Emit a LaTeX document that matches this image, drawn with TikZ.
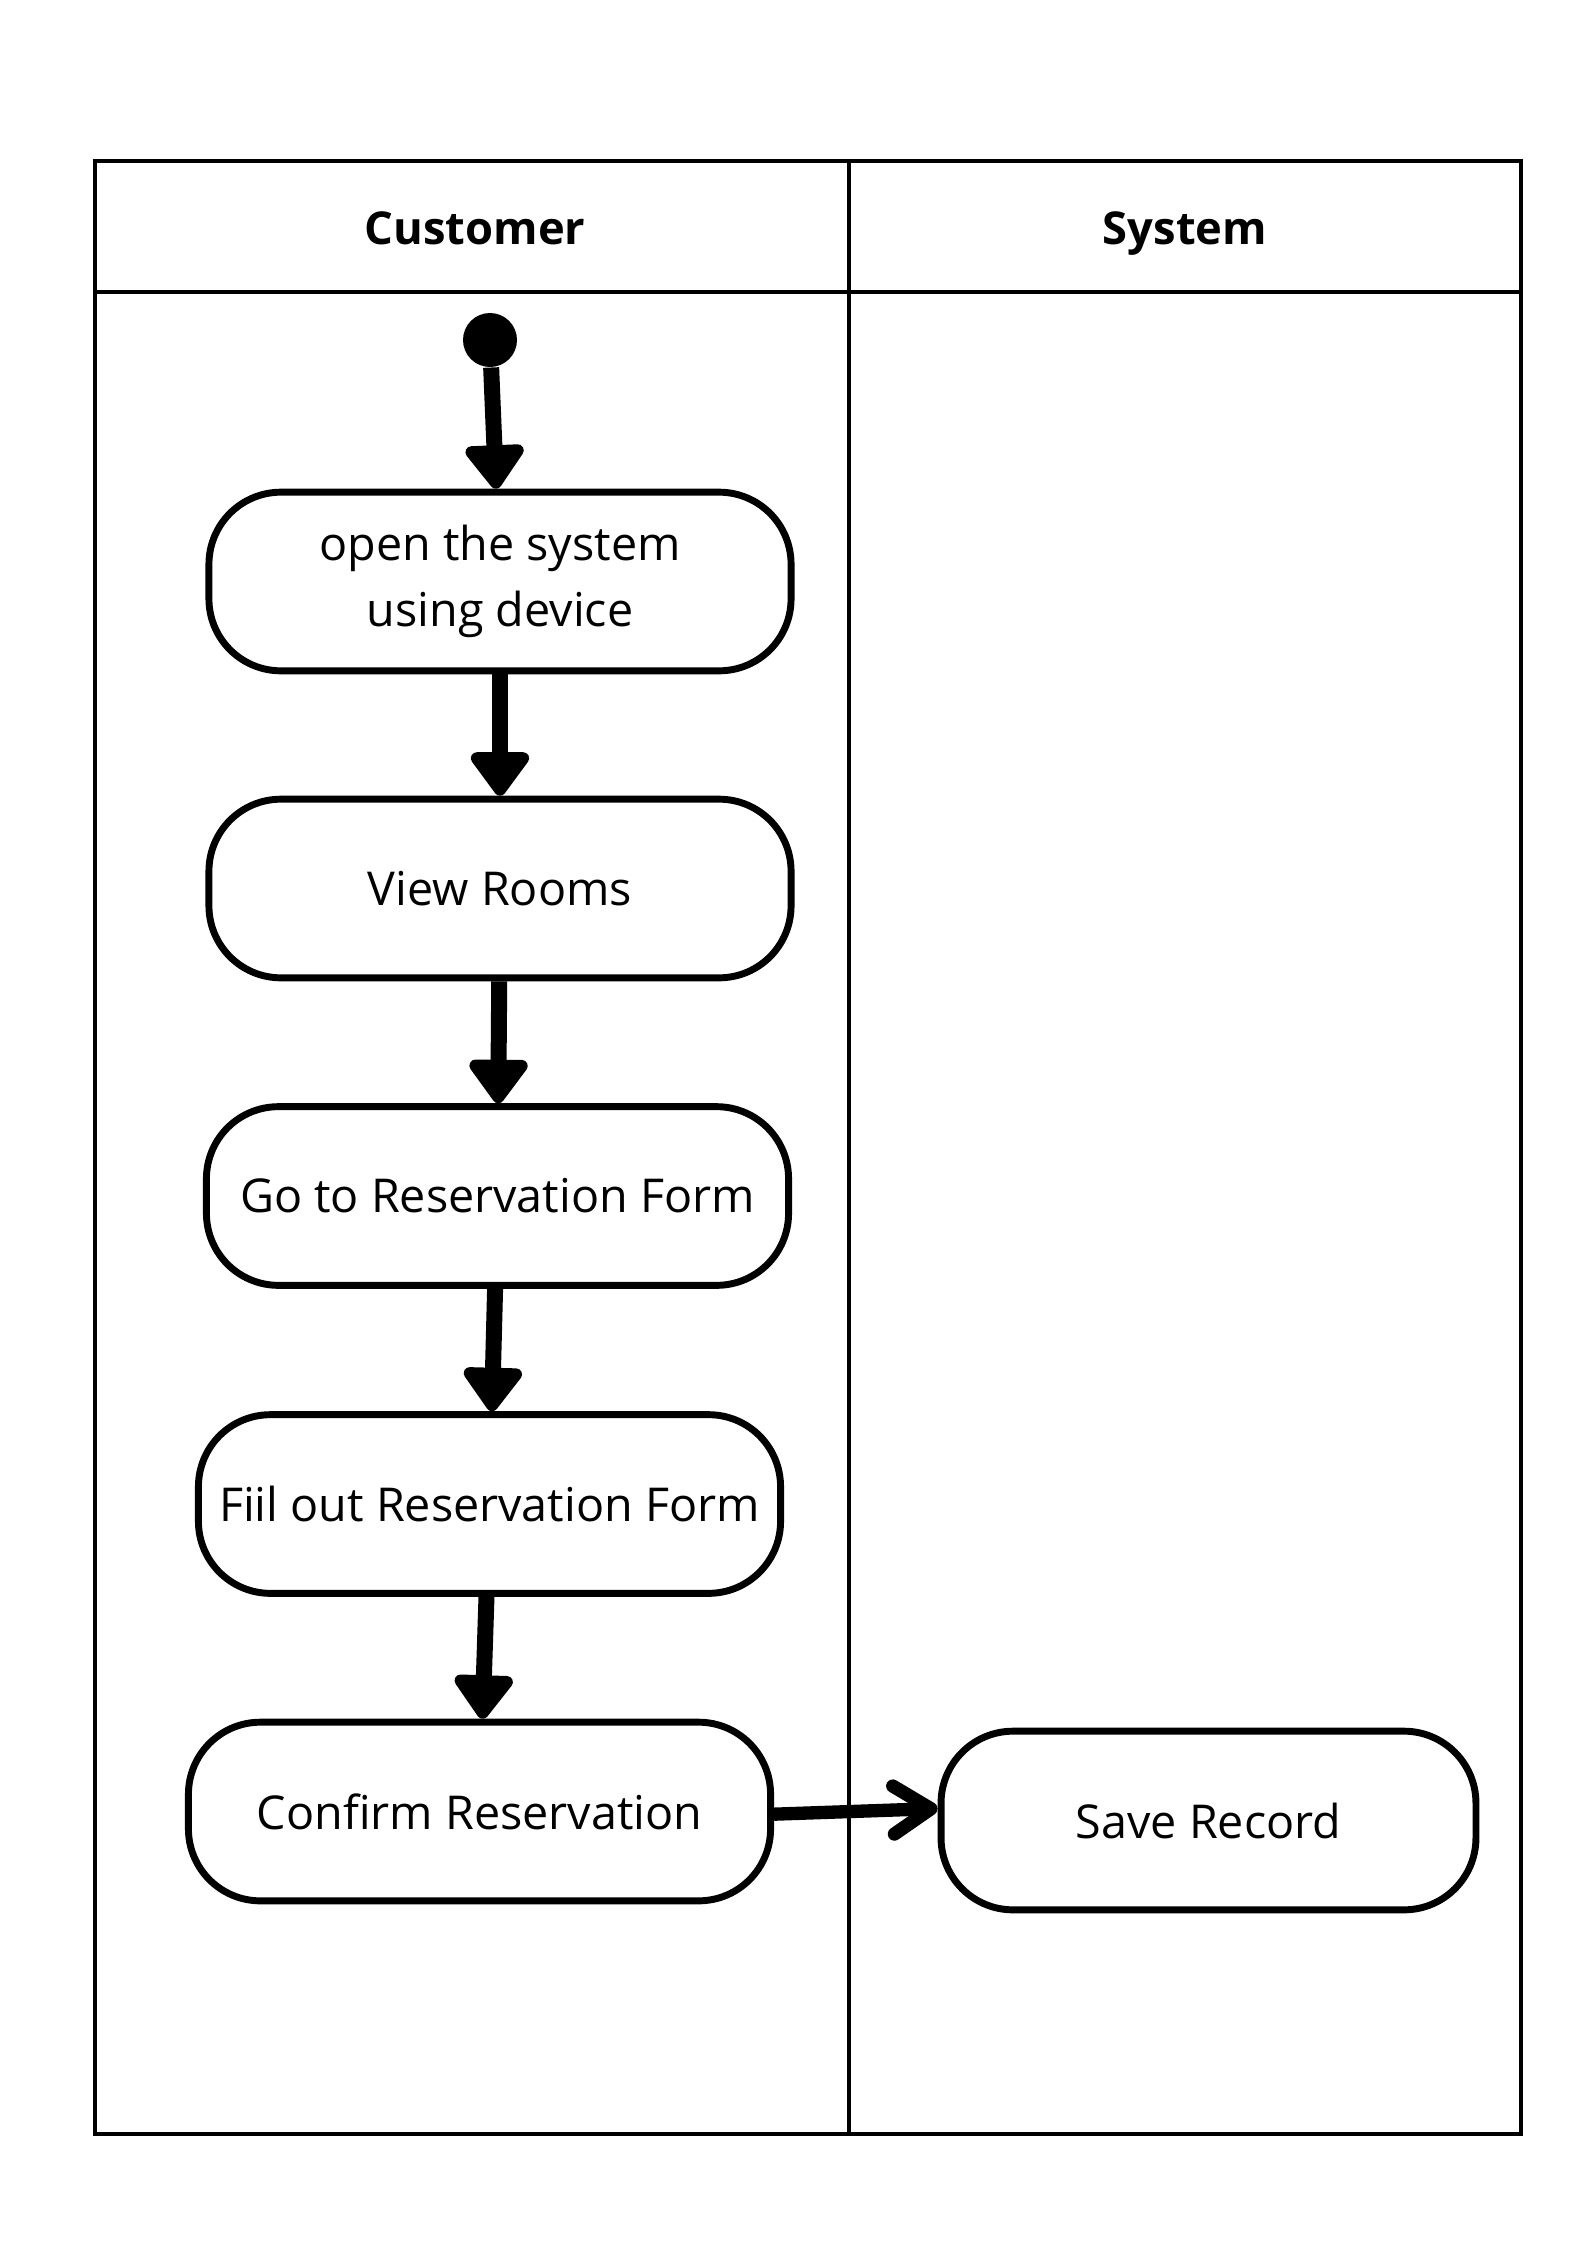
\documentclass[tikz,border=0pt]{standalone}
\usepackage{fontspec}
\setmainfont{Open Sans}
\usetikzlibrary{arrows.meta}
\begin{document}
\begin{tikzpicture}[x=0.375pt,y=-0.375pt,
  lane/.style={line width=1.2pt},
  head/.style={anchor=base,font=\bfseries\fontsize{17}{20}\selectfont},
  act/.style={draw,line width=2.6pt,rounded corners=27pt,minimum width=218.3pt,
    minimum height=67pt,inner sep=0pt,align=center,
    font=\fontsize{17.5}{24.75}\selectfont},
  flow/.style={line width=6pt,-{Triangle[length=18pt,width=25pt,round]}},
  send/.style={line width=5pt,-{Straight Barb[length=14pt,width=18pt,round]}}]
\useasboundingbox (0,0) rectangle (1587,2245);
\draw[lane] (95,161) rectangle (1521,2134) (95,292) -- (1521,292) (849,161) -- (849,2134);
\node[head] (cust) at (475,244) {Customer};
\node[head] (sys) at (1185,244) {System};
\node[circle,fill,inner sep=0pt,minimum size=20.25pt] (start) at (490,340) {};
\node[act] (open) at (500,581.5) {open the system\\using device};
\node[act] (view) at (500,888.5) {View Rooms};
\node[act] (goto) at (497.5,1196) {Go to Reservation Form};
\node[act] (fill) at (489.5,1504) {Fiil out Reservation Form};
\node[act] (conf) at (479.5,1811.5) {Confirm Reservation};
\node[act,minimum width=200.6pt] (save) at (1208.5,1820.5) {Save Record};
\draw[flow] (start) -- (open);
\draw[flow] (open) -- (view);
\draw[flow] (view) -- (goto);
\draw[flow] (goto) -- (fill);
\draw[flow] (fill) -- (conf);
\draw[send] ([yshift=-1pt]conf.east) -- ([yshift=4.5pt]save.west);
\end{tikzpicture}
\end{document}
